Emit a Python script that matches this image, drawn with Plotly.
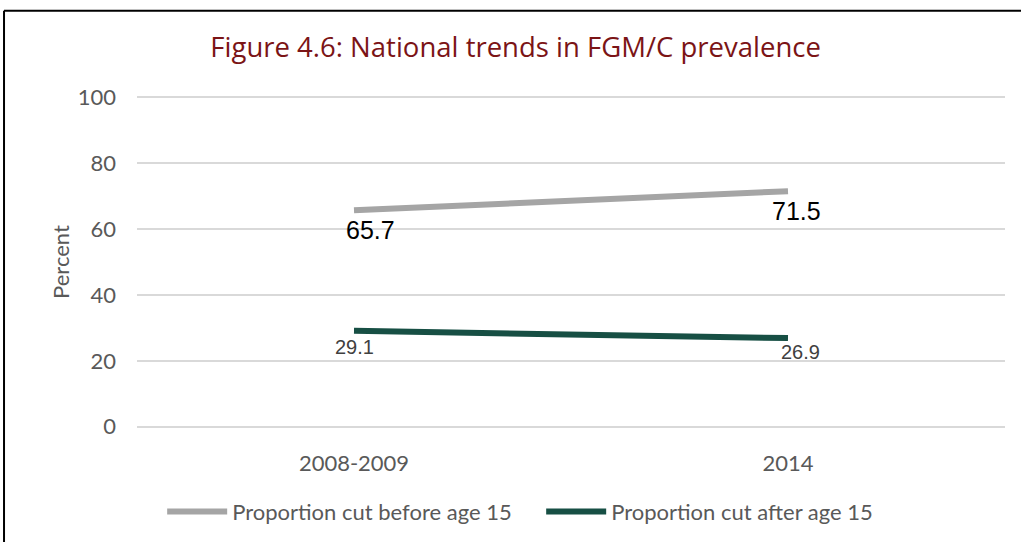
import plotly.graph_objects as go

# Survey rounds and FGM/C prevalence by age at cutting (percent)
periods = ["2008-2009", "2014"]
before_15 = [65.7, 71.5]
after_15 = [29.1, 26.9]
series_names = ["Proportion cut before age 15", "Proportion cut after age 15"]
y_ticks = [0, 20, 40, 60, 80, 100]

GREY = "#A5A5A5"
GREEN = "#174F44"
TEXT = "#595959"
BODY_FONT = "Lato, 'Open Sans', sans-serif"

fig = go.Figure()
fig.add_trace(go.Scatter(x=periods, y=before_15, mode="lines", name=series_names[0],
                         line=dict(color=GREY, width=6)))
fig.add_trace(go.Scatter(x=periods, y=after_15, mode="lines", name=series_names[1],
                         line=dict(color=GREEN, width=6)))

# Value labels sit just below each end point (x given as category index)
label_specs = [
    (before_15, 25, "#000000", [16, 8], [-20, -20]),
    (after_15, 20, "#404040", [0, 12], [-16, -14]),
]
for values, size, color, xs, ys in label_specs:
    for i, v in enumerate(values):
        fig.add_annotation(x=i, y=v, text=f"{v}", showarrow=False,
                           xshift=xs[i], yshift=ys[i],
                           font=dict(family="'Liberation Sans', Arial, sans-serif",
                                     size=size, color=color))

# Frame lines along the left and top edges
fig.add_shape(type="line", xref="paper", yref="paper", x0=-0.1532, x1=-0.1532,
              y0=-0.5, y1=1.2567, line=dict(color="#000000", width=2))
fig.add_shape(type="line", xref="paper", yref="paper", x0=-0.1532, x1=1.1,
              y0=1.2567, y1=1.2567, line=dict(color="#000000", width=2))

fig.update_layout(
    width=1021, height=542,
    margin=dict(l=137, r=16, t=96, b=114, autoexpand=False),
    paper_bgcolor="white", plot_bgcolor="white",
    title=dict(text="Figure 4.6: National trends in FGM/C prevalence",
               x=0.505, xanchor="center", y=0.913, yanchor="middle",
               font=dict(family="'Liberation Sans Narrow', 'Open Sans', sans-serif",
                         size=27.5, color="#7B1416")),
    showlegend=True,
    legend=dict(orientation="h", x=0.029, xanchor="left", y=-0.252, yanchor="middle",
                font=dict(family=BODY_FONT, size=22, color=TEXT),
                itemwidth=60, tracegroupgap=0, entrywidth=304),
    xaxis=dict(type="category", range=[-0.5, 1.5], showgrid=False, ticks="",
               showline=False, zeroline=False, ticklabelstandoff=20,
               tickfont=dict(family=BODY_FONT, size=22, color=TEXT)),
    yaxis=dict(range=[-0.4, 100.4], tickvals=y_ticks, showgrid=True, gridcolor="#D9D9D9",
               gridwidth=1.5, zeroline=True, zerolinecolor="#D9D9D9", zerolinewidth=1.5,
               showline=False, ticks="", ticklabelstandoff=20,
               tickfont=dict(family=BODY_FONT, size=22, color=TEXT),
               title=dict(text="Percent", standoff=2,
                          font=dict(family=BODY_FONT, size=22, color=TEXT))),
)

fig.write_html("out.html")
